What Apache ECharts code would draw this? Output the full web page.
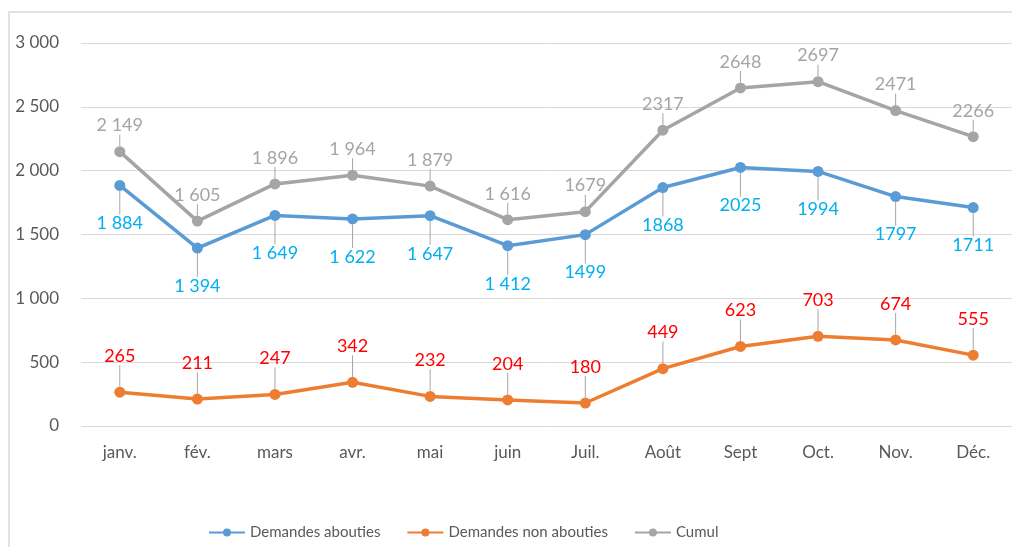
<!DOCTYPE html>
<html>
<head>
<meta charset="utf-8">
<script src="https://cdn.jsdelivr.net/npm/echarts@6/dist/echarts.min.js"></script>
<style>
  html, body { margin: 0; padding: 0; background: #fff; }
  #chart { width: 1012px; height: 547px; }
</style>
</head>
<body>
<div id="chart"></div>
<script>
var months = ['janv.', 'fév.', 'mars', 'avr.', 'mai', 'juin', 'Juil.', 'Août', 'Sept', 'Oct.', 'Nov.', 'Déc.']
var abouties = [1884, 1394, 1649, 1622, 1647, 1412, 1499, 1868, 2025, 1994, 1797, 1711]
var nonAbouties = [265, 211, 247, 342, 232, 204, 180, 449, 623, 703, 674, 555]
var cumul = [2149, 1605, 1896, 1964, 1879, 1616, 1679, 2317, 2648, 2697, 2471, 2266]

var FONT = 'Lato'

// first half of the year has a space as thousands separator, the rest not
function fmt(v, i) {
  var s = String(v)
  if (i < 6 && v >= 1000) s = s.slice(0, s.length - 3) + ' ' + s.slice(-3)
  return s
}

var chart = echarts.init(document.getElementById('chart'))

function lineSerie(name, data, color, labelColor, dy) {
  return {
    name: name,
    type: 'line',
    data: data,
    symbol: 'circle',
    symbolSize: 11,
    lineStyle: { color: color, width: 3.5 },
    itemStyle: { color: color },
    label: {
      show: true,
      position: 'inside',
      color: labelColor,
      fontFamily: FONT,
      fontSize: 18,
      formatter: function (p) { return fmt(p.value, p.dataIndex) }
    },
    labelLine: { show: true, lineStyle: { color: '#a6a6a6', width: 1 } },
    labelLayout: { dy: dy },
    animation: false
  }
}

chart.setOption({
  graphic: [{
    type: 'rect',
    shape: { x: 9, y: 12, width: 1100, height: 600 },
    style: { fill: 'none', stroke: '#d9d9d9', lineWidth: 1.5 },
    silent: true
  }],
  grid: {
    left: 81,
    right: -13,
    top: 43,
    bottom: 121
  },
  legend: {
    left: 203,
    top: 520,
    itemWidth: 36,
    itemHeight: 10,
    itemGap: 26,
    textStyle: { color: '#595959', fontFamily: FONT, fontSize: 15 },
    data: ['Demandes abouties', 'Demandes non abouties', 'Cumul']
  },
  xAxis: {
    type: 'category',
    data: months,
    axisLine: { show: false },
    axisTick: { show: false },
    axisLabel: { color: '#595959', fontFamily: FONT, fontSize: 17, margin: 18 }
  },
  yAxis: {
    type: 'value',
    min: 0,
    max: 3000,
    interval: 500,
    axisLabel: {
      color: '#595959',
      fontFamily: FONT,
      fontSize: 17,
      margin: 22,
      formatter: function (v) { return fmt(v, 0) }
    },
    splitLine: { lineStyle: { color: '#d9d9d9', width: 1 } }
  },
  series: [
    lineSerie('Demandes abouties', abouties, '#5B9BD5', '#00B0F0', 38),
    lineSerie('Demandes non abouties', nonAbouties, '#ED7D31', '#FF0000', -36),
    lineSerie('Cumul', cumul, '#A5A5A5', '#A5A5A5', -26)
  ]
})
</script>
</body>
</html>
